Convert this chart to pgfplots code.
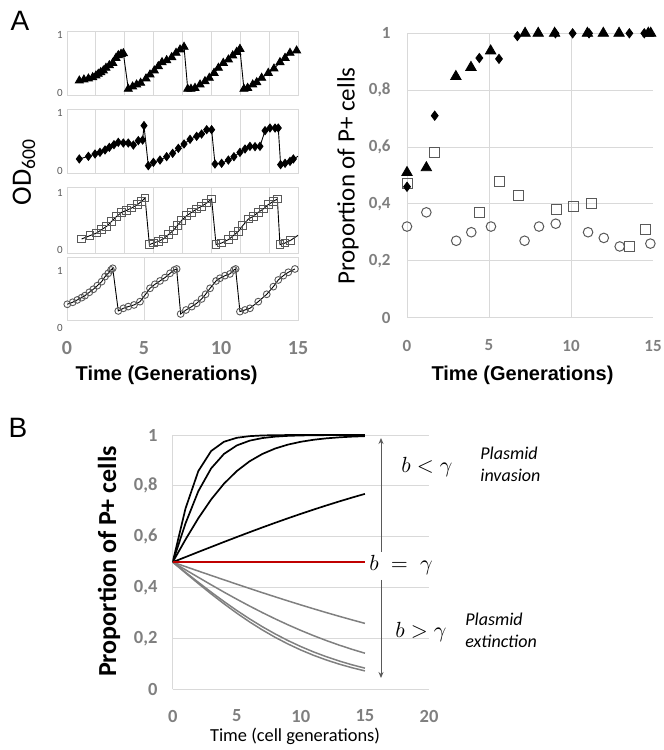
\documentclass[border=0pt]{standalone}
\usepackage{pgfplots}
\pgfplotsset{compat=1.18}
\usepackage{fontspec}
\setmainfont{Carlito}
\newfontfamily\arialf{Liberation Sans}
\usetikzlibrary{arrows.meta}

\definecolor{tickgray}{HTML}{7F7F7F}
\definecolor{gridgray}{HTML}{D9D9D9}
\definecolor{markgray}{HTML}{595959}
\definecolor{curvegray}{HTML}{808080}
\definecolor{xlred}{HTML}{C00000}

\pgfplotsset{
  odsub/.style={
    scale only axis, width=115.5pt, anchor=south west,
    xmin=0, xmax=15, xtick={0,1.875,...,15},
    ytick={0,1}, tick style={draw=none},
    /pgf/number format/assume math mode=true,
    axis line style={gridgray}, xmajorgrids, grid style={gridgray, line width=0.4pt},
    yticklabel style={font=\fontsize{5.5}{6}\selectfont, text=markgray, inner sep=1pt, xshift=-1pt},
    clip=false,
  },
  subline/.style={black, line width=0.45pt},
  bigticks/.style={
    /pgf/number format/use comma,
    /pgf/number format/assume math mode=true,
    tick style={draw=none},
  },
}

\begin{document}
\begin{tikzpicture}
\path[use as bounding box] (0,0) rectangle (332pt,375pt);

% ---- A, left: OD600 time series
\begin{axis}[odsub, at={(33.5pt,327.15pt)}, height=32pt, ymin=-0.052, ymax=1.057, xticklabels={}]
\addplot[subline, mark=triangle*, mark size=2.3pt] coordinates {
 (0.80,0.208)(1.10,0.226)(1.39,0.243)(1.67,0.266)(1.88,0.295)(2.03,0.324)(2.19,0.353)
 (2.36,0.382)(2.53,0.428)(2.75,0.474)(2.97,0.514)(3.18,0.601)(3.33,0.647)(3.51,0.670)
 (3.66,0.682)(3.98,0.064)(4.26,0.104)(4.52,0.139)(4.78,0.168)(5.13,0.243)(5.39,0.312)
 (5.67,0.382)(5.93,0.457)(6.17,0.526)(6.47,0.561)(6.80,0.613)(7.08,0.688)(7.34,0.746)
 (7.60,0.792)(7.84,0.064)(8.05,0.064)(8.31,0.081)(8.64,0.139)(8.96,0.197)(9.24,0.255)
 (9.55,0.341)(9.83,0.428)(10.15,0.514)(10.48,0.572)(10.76,0.642)(11.02,0.705)(11.23,0.757)
 (11.49,0.064)(11.73,0.081)(12.06,0.139)(12.32,0.179)(12.64,0.255)(13.07,0.341)(13.44,0.416)
 (13.83,0.526)(14.16,0.601)(14.48,0.688)(14.91,0.728)};
\end{axis}

\begin{axis}[odsub, at={(33.5pt,288.5pt)}, height=32pt, ymin=-0.035, ymax=1.075, xticklabels={}]
\addplot[subline, mark=diamond*, mark size=2pt] coordinates {
 (0.80,0.208)(1.39,0.254)(1.82,0.294)(2.14,0.323)(2.47,0.364)(2.75,0.410)(3.05,0.456)
 (3.33,0.497)(3.66,0.485)(3.98,0.485)(4.31,0.450)(4.63,0.526)(4.91,0.537)(5.00,0.786)
 (5.28,0.092)(5.61,0.150)(6.04,0.190)(6.47,0.248)(6.86,0.306)(7.23,0.393)(7.60,0.468)
 (7.99,0.549)(8.42,0.601)(8.74,0.641)(9.07,0.716)(9.39,0.716)(9.61,0.121)(10.04,0.133)
 (10.48,0.190)(10.84,0.248)(11.23,0.323)(11.56,0.381)(11.88,0.427)(12.21,0.422)(12.53,0.427)
 (12.86,0.699)(13.18,0.745)(13.51,0.745)(13.72,0.745)(13.87,0.110)(14.16,0.133)(14.48,0.167)
 (14.70,0.208)};
\addplot[subline] coordinates {(14.70,0.208)(15,0.254)};
\end{axis}

\begin{axis}[odsub, at={(33.5pt,248.5pt)}, height=33pt, ymin=-0.061, ymax=1.096, xticklabels={}]
\addplot[subline, mark=square, mark size=1.9pt, mark options={markgray, line width=0.45pt}] coordinates {
 (0.95,0.185)(1.49,0.243)(1.93,0.290)(2.25,0.348)(2.58,0.407)(2.90,0.494)(3.23,0.582)
 (3.55,0.652)(3.87,0.687)(4.20,0.728)(4.57,0.787)(4.85,0.845)(5.07,0.904)(5.35,0.085)
 (5.61,0.114)(5.93,0.144)(6.26,0.185)(6.58,0.261)(6.90,0.331)(7.16,0.418)(7.45,0.512)
 (7.77,0.594)(8.10,0.652)(8.42,0.711)(8.74,0.758)(9.07,0.816)(9.39,0.886)(9.68,0.085)
 (10.04,0.114)(10.48,0.173)(10.80,0.243)(11.13,0.319)(11.41,0.418)(11.78,0.535)(12.10,0.582)
 (12.42,0.652)(12.75,0.711)(13.07,0.787)(13.40,0.845)(13.66,0.886)(13.83,0.085)(14.16,0.114)
 (14.52,0.161)};
\addplot[subline] coordinates {(14.52,0.161)(15,0.249)};
\end{axis}

\begin{axis}[odsub, at={(33.5pt,215pt)}, height=31.5pt, ymin=0.14, ymax=1.245, ytick={1},
  xtick={0,5,10,15},
  xticklabel style={font=\fontsize{10}{12}\bfseries\selectfont, text=tickgray, yshift=-7pt}]
\addplot[subline, mark=o, mark size=1.7pt, mark options={markgray, line width=0.45pt}] coordinates {
 (0.02,0.416)(0.37,0.451)(0.67,0.492)(0.95,0.532)(1.17,0.568)(1.45,0.626)(1.71,0.679)
 (1.97,0.743)(2.25,0.813)(2.47,0.901)(2.68,0.959)(2.86,1.018)(2.97,1.047)(3.33,0.299)
 (3.66,0.345)(3.98,0.375)(4.35,0.404)(4.74,0.462)(5.07,0.579)(5.39,0.696)(5.71,0.766)
 (6.04,0.825)(6.36,0.883)(6.69,0.959)(6.97,1.018)(7.12,1.035)(7.38,0.246)(7.73,0.316)
 (8.10,0.375)(8.42,0.433)(8.74,0.509)(9.00,0.591)(9.29,0.696)(9.68,0.825)(9.93,0.872)
 (10.26,0.918)(10.58,0.948)(10.84,1.018)(10.95,1.035)(11.23,0.287)(11.56,0.316)(11.88,0.345)
 (12.42,0.462)(12.97,0.591)(13.40,0.725)(13.72,0.842)(14.05,0.918)(14.37,0.977)(14.80,1.035)};
\node[anchor=east, font=\fontsize{5.5}{6}\selectfont, text=markgray, inner sep=1pt, xshift=-1pt] at (axis cs:0,0) {0};
\end{axis}

% ---- A, right: proportion of P+ cells
\begin{axis}[bigticks, scale only axis, anchor=south west, at={(203.5pt,216.25pt)},
  width=123pt, height=142.1pt, xmin=0, xmax=15, ymin=0, ymax=1,
  xtick={0,5,10}, extra x ticks={15}, extra x tick style={grid=none},
  ytick={0,0.2,0.4,0.6,0.8,1},
  grid=major, grid style={gridgray, line width=0.4pt}, axis line style={draw=none},
  ticklabel style={font=\fontsize{8.5}{10}\bfseries\selectfont, text=tickgray},
  xticklabel style={yshift=-7.7pt}, yticklabel style={xshift=-4.7pt},
  clip=false]
\addplot[only marks, mark=square, mark size=2.5pt, mark options={markgray, line width=0.5pt}] coordinates {
 (0,0.47)(1.69,0.58)(4.41,0.37)(5.61,0.48)(6.79,0.43)(9.1,0.38)(10.16,0.39)(11.24,0.40)
 (13.58,0.25)(14.55,0.31)};
\addplot[only marks, mark=o, mark size=2.4pt, mark options={markgray, line width=0.5pt}] coordinates {
 (0,0.32)(1.18,0.37)(3.0,0.27)(3.92,0.30)(5.12,0.32)(7.17,0.27)(8.05,0.32)(9.07,0.33)
 (11.04,0.30)(12.0,0.28)(12.97,0.25)(14.84,0.26)};
\addplot[only marks, mark=diamond*, mark size=2.3pt, black] coordinates {
 (0,0.46)(1.69,0.71)(4.41,0.913)(5.61,0.91)(6.73,0.99)(9.05,1)(10.1,1)(11.1,1)(13.56,1)(14.47,1)};
\addplot[only marks, mark=triangle*, mark size=3pt, black] coordinates {
 (0,0.51)(1.18,0.527)(2.98,0.848)(3.9,0.88)(5.1,0.938)(7.2,1)(8.0,1)(9.0,1)(11.0,1)
 (11.97,1)(12.93,1)(14.71,1)(14.86,1)};
\end{axis}

% ---- B: model curves
\begin{axis}[bigticks, scale only axis, anchor=south west, at={(86.35pt,30.35pt)},
  width=128.15pt, height=127.15pt, xmin=0, xmax=20, ymin=0, ymax=1,
  xtick={0,5,10,15,20}, ytick={0,0.2,0.4,0.6,0.8,1},
  ymajorgrids, grid style={gridgray, line width=0.4pt},
  axis x line*=bottom, axis y line*=left, axis line style={gridgray, line width=0.5pt, -},
  ticklabel style={font=\fontsize{9.25}{11}\bfseries\selectfont, text=tickgray},
  xticklabel style={yshift=-6.8pt}, yticklabel style={xshift=-4.1pt}]
\addplot[curvegray, line width=0.75pt] coordinates {
 (0,0.5)(1,0.4825)(2,0.4650)(3,0.4477)(4,0.4305)(5,0.4134)(6,0.3965)(7,0.3799)(8,0.3636)
 (9,0.3475)(10,0.3318)(11,0.3165)(12,0.3015)(13,0.2870)(14,0.2729)(15,0.2592)};
\addplot[curvegray, line width=0.75pt] coordinates {
 (0,0.5)(1,0.4700)(2,0.4403)(3,0.4110)(4,0.3822)(5,0.3543)(6,0.3274)(7,0.3015)(8,0.2769)
 (9,0.2535)(10,0.2315)(11,0.2108)(12,0.1915)(13,0.1736)(14,0.1571)(15,0.1419)};
\addplot[curvegray, line width=0.75pt] coordinates {
 (0,0.5)(1,0.4601)(2,0.4207)(3,0.3822)(4,0.3453)(5,0.3100)(6,0.2769)(7,0.2460)(8,0.2176)
 (9,0.1915)(10,0.1680)(11,0.1468)(12,0.1279)(13,0.1111)(14,0.0962)(15,0.0832)};
\addplot[curvegray, line width=0.75pt] coordinates {
 (0,0.5)(1,0.4576)(2,0.4158)(3,0.3752)(4,0.3363)(5,0.2994)(6,0.2650)(7,0.2333)(8,0.2042)
 (9,0.1780)(10,0.1545)(11,0.1335)(12,0.1151)(13,0.0989)(14,0.0847)(15,0.0724)};
\addplot[black, line width=0.85pt] coordinates {
 (0,0.5)(1,0.5200)(2,0.5400)(3,0.5597)(4,0.5794)(5,0.5987)(6,0.6178)(7,0.6365)(8,0.6548)
 (9,0.6726)(10,0.6900)(11,0.7068)(12,0.7231)(13,0.7388)(14,0.7540)(15,0.7685)};
\addplot[black, line width=0.85pt] coordinates {
 (0,0.5)(1,0.5890)(2,0.6726)(3,0.7465)(4,0.8085)(5,0.8581)(6,0.8966)(7,0.9255)(8,0.9469)
 (9,0.9623)(10,0.9734)(11,0.9813)(12,0.9869)(13,0.9908)(14,0.9936)(15,0.9955)};
\addplot[black, line width=0.85pt] coordinates {
 (0,0.5)(1,0.6525)(2,0.7790)(3,0.8687)(4,0.9255)(5,0.9589)(6,0.9777)(7,0.9880)(8,0.9936)
 (9,0.9966)(10,0.9982)(11,0.9990)(12,0.9995)(13,0.9997)(14,0.9999)(15,0.9999)};
\addplot[black, line width=0.85pt] coordinates {
 (0,0.5)(1,0.7110)(2,0.8581)(3,0.9370)(4,0.9734)(5,0.9890)(6,0.9955)(7,0.9982)(8,0.9993)
 (9,0.9997)(10,0.9999)(11,1)(12,1)(13,1)(14,1)(15,1)};
\addplot[xlred, line width=1.35pt] coordinates {(0,0.5)(15,0.5)};
\end{axis}

% ---- labels
\node[font=\arialf\fontsize{14}{16}\selectfont] at (10pt,364.5pt) {A};
\node[font=\arialf\fontsize{14}{16}\selectfont] at (9pt,161pt) {B};
\node[rotate=90, font=\fontsize{14}{16}\selectfont] at (12pt,289pt) {OD\textsubscript{600}};
\node[font=\arialf\bfseries\fontsize{10}{12}\selectfont] at (83.3pt,187.5pt) {Time (Generations)};
\node[font=\arialf\bfseries\fontsize{10}{12}\selectfont] at (261.25pt,187.5pt) {Time (Generations)};
\node[rotate=90, font=\fontsize{12.5}{14}\selectfont] at (174pt,287pt) {Proportion of P+ cells};
\node[rotate=90, font=\bfseries\fontsize{13}{15}\selectfont] at (54.5pt,94.25pt) {Proportion of P+ cells};
\node[font=\fontsize{9.2}{11}\selectfont] at (147.5pt,7pt) {Time (cell generations)};

% ---- B annotations
\draw[markgray, line width=0.5pt, -{Stealth[length=3pt,width=2.5pt]}] (190.5pt,99pt) -- (190.5pt,156pt);
\draw[markgray, line width=0.5pt, -{Stealth[length=3pt,width=2.5pt]}] (190.5pt,85pt) -- (190.5pt,36pt);
\node[font=\fontsize{11}{13}\selectfont] at (213.5pt,141.5pt) {$b<\gamma$};
\node[font=\fontsize{11}{13}\selectfont, anchor=west, inner sep=0pt] at (184.5pt,92.5pt) {$b\;=\;\gamma$};
\node[font=\fontsize{11}{13}\selectfont] at (210.5pt,59pt) {$b>\gamma$};
\node[font=\itshape\fontsize{9}{11}\selectfont, anchor=west, inner sep=0pt] at (240pt,148.5pt) {Plasmid};
\node[font=\itshape\fontsize{9}{11}\selectfont, anchor=west, inner sep=0pt] at (240pt,137.5pt) {invasion};
\node[font=\itshape\fontsize{9}{11}\selectfont, anchor=west, inner sep=0pt] at (232.5pt,65.5pt) {Plasmid};
\node[font=\itshape\fontsize{9}{11}\selectfont, anchor=west, inner sep=0pt] at (232.5pt,54.5pt) {extinction};
\end{tikzpicture}
\end{document}
